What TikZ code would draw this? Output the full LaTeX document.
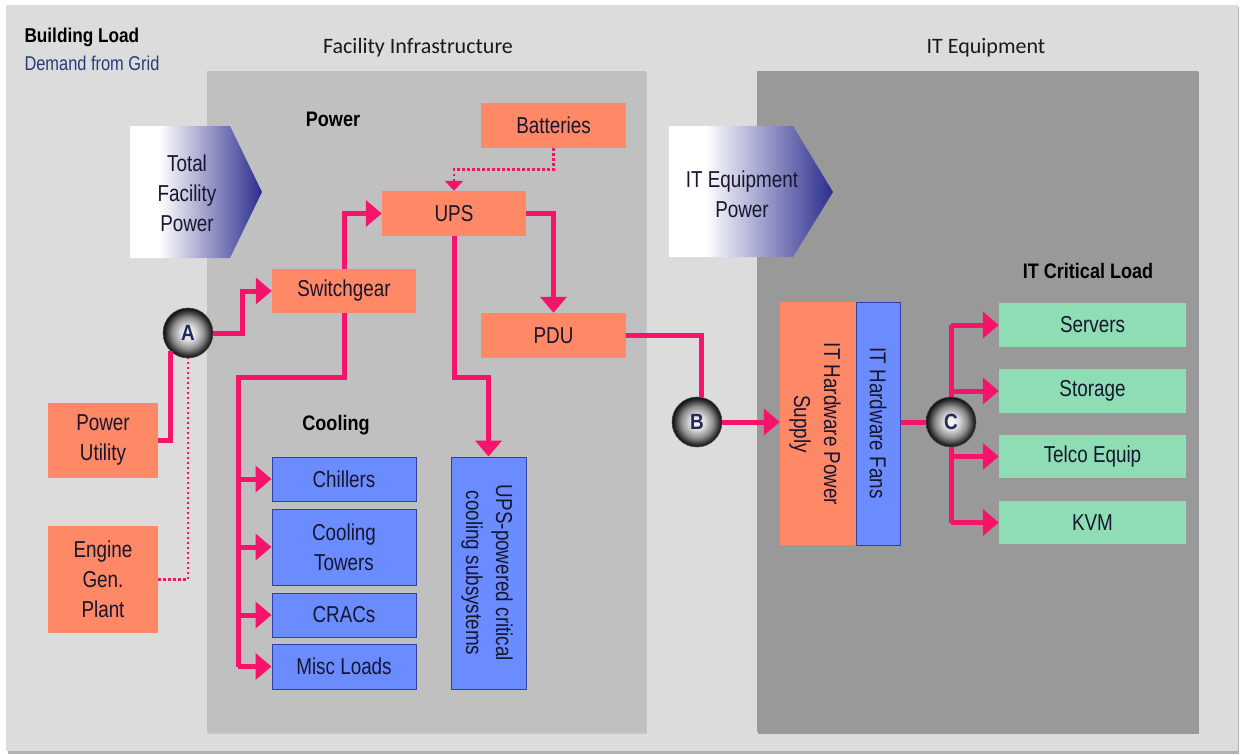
\documentclass[tikz,border=0pt]{standalone}
\usepackage{fontspec}
\setmainfont{Liberation Sans}[FakeStretch=0.82, BoldFeatures={FakeStretch=0.86}]
\newfontfamily\titlefont{Carlito}
\usetikzlibrary{arrows.meta,calc}
\definecolor{outerbg}{HTML}{DCDCDC}
\definecolor{facbg}{HTML}{C0C0C0}
\definecolor{itbg}{HTML}{999999}
\definecolor{boxor}{HTML}{FF8866}
\definecolor{boxbl}{HTML}{6A8CFF}
\definecolor{boxbd}{HTML}{2F40A8}
\definecolor{boxgr}{HTML}{8EDDB5}
\definecolor{txt}{HTML}{16162E}
\definecolor{navytxt}{HTML}{1E2A5A}
\definecolor{demand}{HTML}{2A3A78}
\definecolor{pinkline}{HTML}{F5146A}
\definecolor{arrnavy}{HTML}{2B2D8E}
\pgfdeclarehorizontalshading{arrsh}{100bp}{color(0bp)=(white); color(36bp)=(white); color(75bp)=(arrnavy); color(100bp)=(arrnavy)}
\pgfdeclareradialshading{sphere}{\pgfpoint{0bp}{0bp}}{color(0bp)=(white); color(8bp)=(white!85!black); color(16bp)=(black!45); color(22bp)=(black!80); color(25bp)=(black!95); color(50bp)=(black!95)}
\tikzset{
  box/.style={inner sep=0pt, align=center, font=\fontsize{23}{30}\selectfont, text=txt},
  obox/.style={box, fill=boxor},
  bbox/.style={box, fill=boxbl, draw=boxbd, line width=1pt},
  gbox/.style={box, fill=boxgr},
  pw/.style={draw=pinkline, line width=5pt},
  pwa/.style={pw, -{Triangle[length=16pt,width=26pt]}},
  dotline/.style={draw=pinkline, line width=2.5pt, dash pattern=on 2.5pt off 2.5pt},
  ballnode/.style={circle, minimum size=50pt, inner sep=0pt, shading=sphere, draw=black!70, line width=0.6pt, font=\bfseries\fontsize{22}{22}\selectfont, text=navytxt},
  heading/.style={font=\bfseries\fontsize{21}{24}\selectfont, text=black},
  ttl/.style={font=\titlefont\fontsize{22}{26}\selectfont, text=black!90},
  arrtext/.style={align=center, font=\fontsize{23}{30}\selectfont, text=txt}
}
\begin{document}
\begin{tikzpicture}[x=1pt,y=-1pt]
\useasboundingbox (0,0) rectangle (1243,755);
\fill[white] (0,0) rectangle (1243,755);
% panels
\fill[black!30] (8,7) rectangle (1239,754);
\fill[outerbg] (6,5) rectangle (1238,751);
\fill[black!22] (208,72) rectangle (647,733.5);
\fill[facbg] (207,71) rectangle (646,732);
\fill[black!40] (758,72) rectangle (1199,733.5);
\fill[itbg] (757,71) rectangle (1198,732);
% titles
\node[font=\bfseries\fontsize{20}{22}\selectfont, anchor=west] (bl) at (21,37) {Building Load};
\node[font=\fontsize{20}{22}\selectfont, text=demand, anchor=west] (dg) at (21,63) {Demand from Grid};
\node[ttl] (t1) at (418,48) {Facility Infrastructure};
\node[ttl] (t2) at (986,48) {IT Equipment};
\node[heading] (hpow) at (333,119) {Power};
\node[heading] (hcool) at (336,425) {Cooling};
\node[heading] (hit) at (1088,271) {IT Critical Load};
% gradient arrows
\shade[shading=arrsh] (130,126) -- (230,126) -- (262,192) -- (230,258) -- (130,258) -- cycle;
\node[arrtext] (tfp) at (187,193) {Total\\Facility\\Power};
\shade[shading=arrsh] (669,126) -- (793,126) -- (833,192) -- (793,257) -- (669,257) -- cycle;
\node[arrtext] (itp) at (742,194) {IT Equipment\\Power};
% orange boxes
\node[obox, minimum width=145pt, minimum height=45pt] (bat) at (553.5,125.5) {Batteries};
\node[obox, minimum width=144pt, minimum height=45pt] (ups) at (454,213.5) {UPS};
\node[obox, minimum width=145pt, minimum height=45pt] (pdu) at (553.5,335.5) {PDU};
\node[obox, minimum width=144pt, minimum height=44pt] (sw) at (344,291) {Switchgear};
\node[obox, minimum width=110pt, minimum height=75pt] (pu) at (103,440) {Power\\Utility};
\node[obox, minimum width=110pt, minimum height=107pt] (eng) at (103,579.5) {Engine\\Gen.\\Plant};
% blue boxes
\node[bbox, minimum width=144pt, minimum height=44pt] (ch) at (344,479) {Chillers};
\node[bbox, minimum width=144pt, minimum height=76pt] (ct) at (344,547) {Cooling\\Towers};
\node[bbox, minimum width=144pt, minimum height=44pt] (cr) at (344,615) {CRACs};
\node[bbox, minimum width=144pt, minimum height=45pt] (mis) at (344,666.5) {Misc Loads};
\node[bbox, minimum width=75pt, minimum height=232pt] (upc) at (488.5,573) {};
\node[box, rotate=-90] (upct) at (487,573) {UPS-powered critical\\cooling subsystems};
% IT hardware
\node[obox, minimum width=76pt, minimum height=243pt] (ps) at (818,423.5) {};
\node[box, rotate=-90] (pst) at (815,424) {IT Hardware Power\\Supply};
\node[bbox, minimum width=44pt, minimum height=243pt] (fans) at (878,423.5) {};
\node[box, rotate=-90] (fanst) at (878,423) {IT Hardware Fans};
% green boxes
\node[gbox, minimum width=187pt, minimum height=44pt] (srv) at (1092.5,325) {Servers};
\node[gbox, minimum width=187pt, minimum height=44pt] (sto) at (1092.5,391) {Storage};
\node[gbox, minimum width=187pt, minimum height=43pt] (tel) at (1092.5,456.5) {Telco Equip};
\node[gbox, minimum width=187pt, minimum height=43pt] (kvm) at (1092.5,522.5) {KVM};
% balls
\node[ballnode] (A) at (188,333) {A};
\node[ballnode] (B) at (697,422) {B};
\node[ballnode] (C) at (951,422) {C};
% connectors
\draw[pw] (pu.east) -| (A.225);
\draw[dotline] (eng.east) -| (A.south);
\draw[pwa] (A.east) -| ($(A.east)!.5!(sw.west)$) |- (sw.west);
\draw[pwa] (sw.north) |- (ups.west);
\coordinate (bus) at (238,377);
\draw[pw] (sw.south) |- (bus) -- (bus |- mis.west);
\foreach \t in {ch,ct,cr,mis} \draw[pwa] (bus |- \t.west) -- (\t.west);
\draw[dotline, -{Triangle[length=10pt,width=18pt]}] (bat.south) |- ($(bat.south)!.5!(ups.north)$) -| (ups.north);
\draw[pwa] (ups.east) -| (pdu.north);
\draw[pwa] (ups.south) |- ($(ups.south)!.64!(upc.north)$) -| (upc.north);
\draw[pw] (pdu.east) -| (B.80);
\draw[pwa] (B.east) -- (B.east -| ps.west);
\draw[pw] (fans.east |- C.west) -- (C.west);
\draw[pw] (C.north) -- (C.north |- srv.west);
\draw[pw] (C.south) -- (C.south |- kvm.west);
\foreach \t in {srv,sto,tel,kvm} \draw[pwa] (C.north |- \t.west) -- (\t.west);
\end{tikzpicture}
\end{document}
